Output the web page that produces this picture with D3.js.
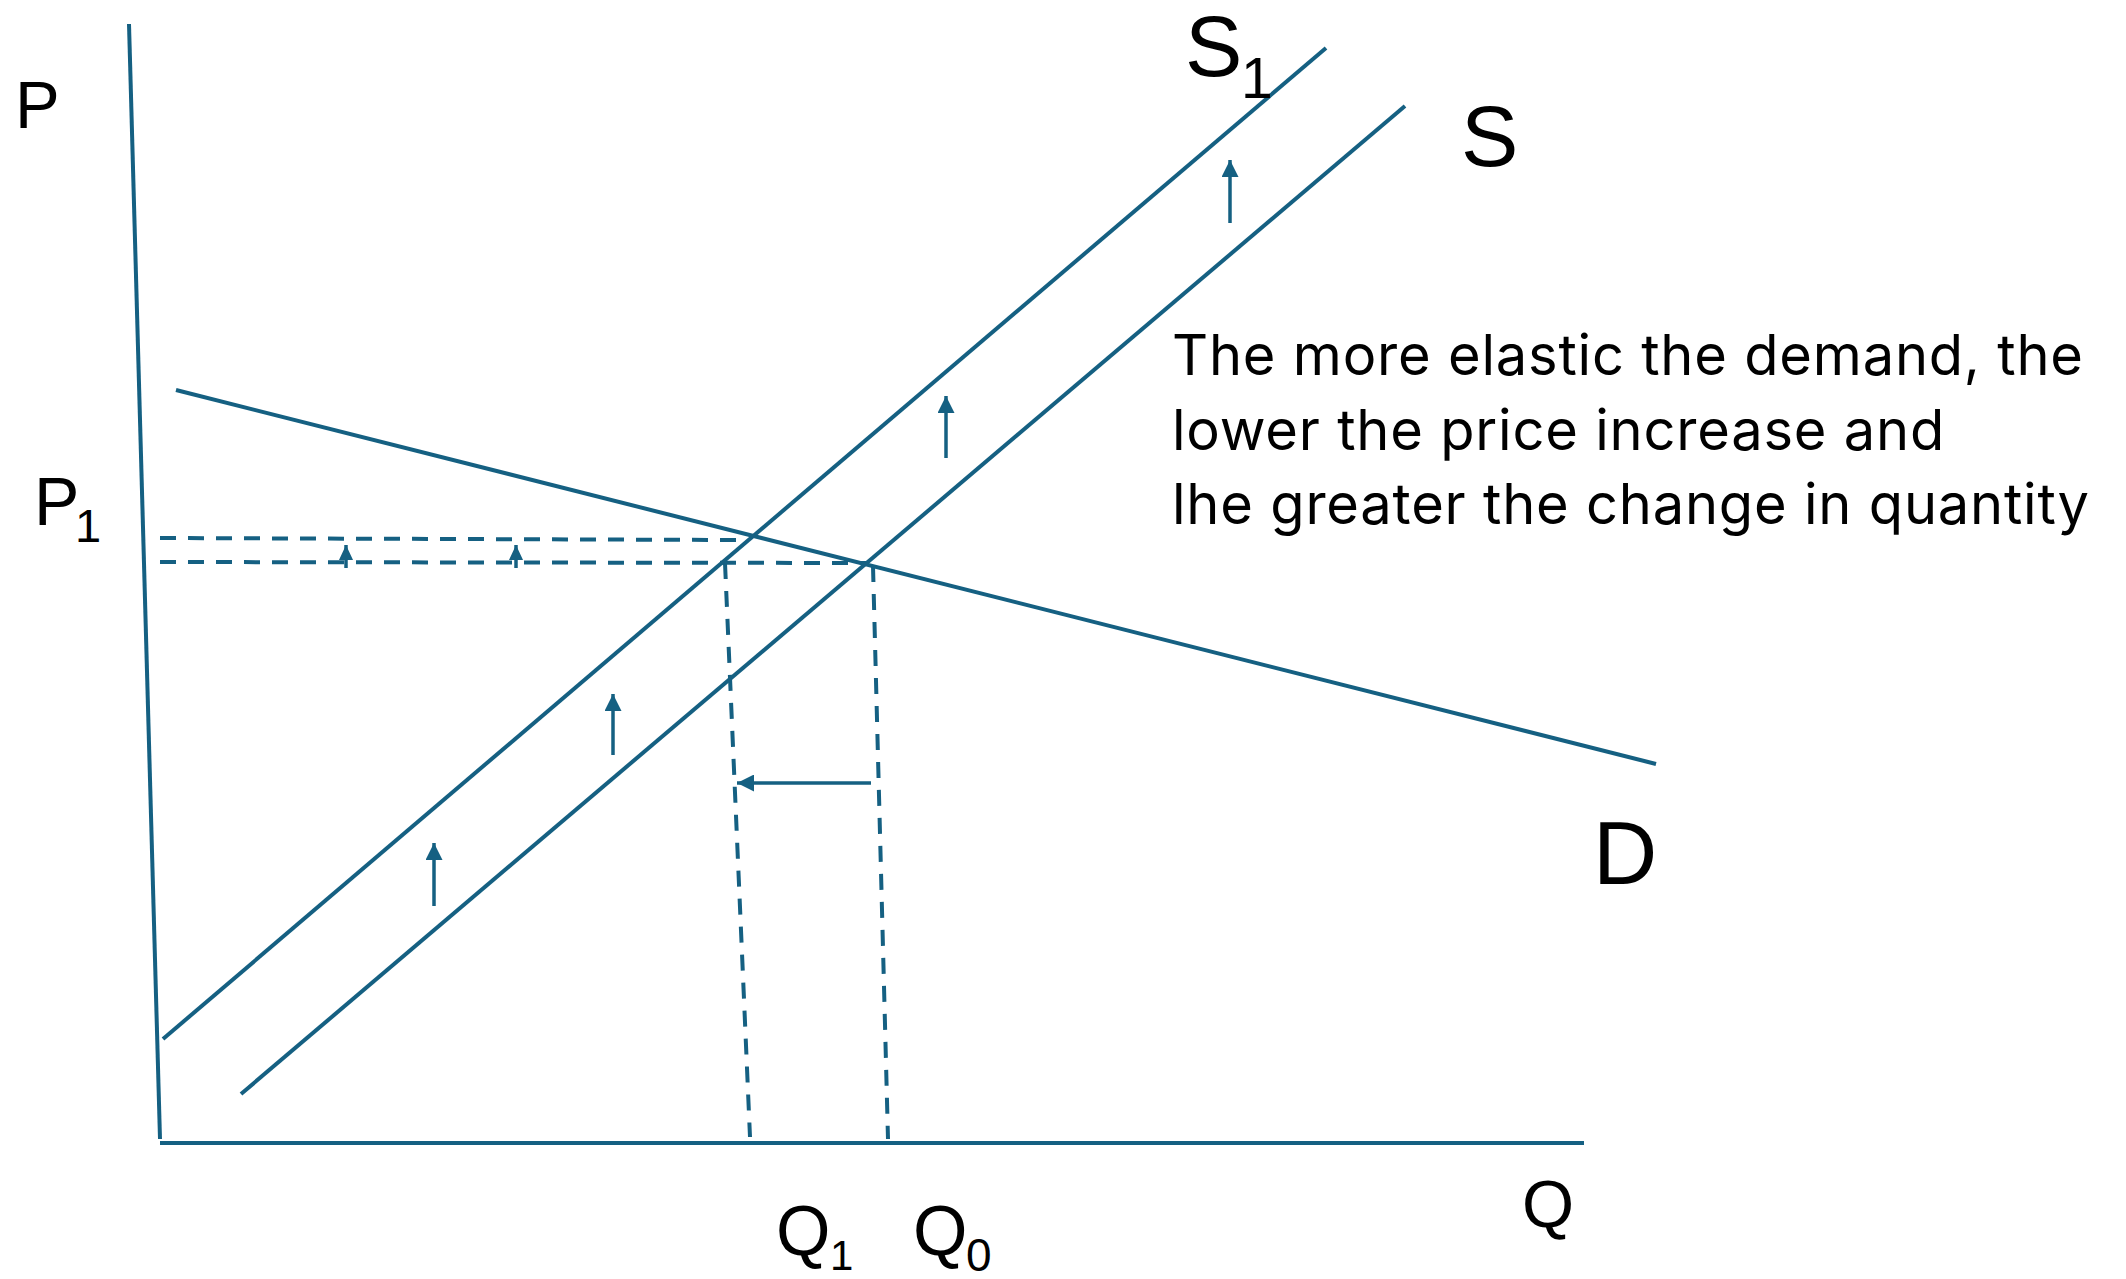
<!DOCTYPE html>
<html>
<head>
  <title>Supply shift with elastic demand</title>
  <style>
    html, body { margin: 0; padding: 0; background: #fff; }
    .lbl { font-family: "Liberation Sans", Arial, sans-serif; fill: #000; }
    .note { font-family: Inter, Lato, sans-serif; fill: #000; }
  </style>
</head>
<body>
  <svg id="chart" width="2126" height="1279"></svg>

  <script src="https://d3js.org/d3.v7.min.js"></script>
  <script>
    // quantity / price units, origin at the axes corner
    const axisLines = [
      [[-31, 1119], [0, 4]],     // price axis (drawn slightly slanted)
      [[0, 0], [1424, 0]]        // quantity axis
    ];
    const supply1 = [[3, 104], [1166, 1095]];
    const supply0 = [[81, 49], [1245, 1037]];
    const demand = [[16, 753], [1496, 379]];

    const dashedLines = [
      [[0, 605], [580, 603]],    // P1
      [[0, 581], [707, 580]],    // P0
      [[565, 580], [590, 6]],    // Q1
      [[713, 577], [728, 4]]     // Q0
    ];

    // [from, to, head size]
    const arrows = [
      [[274, 237], [274, 300], "big"],
      [[453, 388], [453, 449], "big"],
      [[786, 685], [786, 747], "big"],
      [[1070, 920], [1070, 983], "big"],
      [[186, 575], [186, 598], "small"],
      [[356, 575], [356, 598], "small"],
      [[711, 360], [577, 360], "big"]
    ];

    // [text, q, p, font size]
    const labels = [
      ["P", -145, 1015, 67],
      ["P", -126, 618, 68],
      ["1", -85, 601, 47],
      ["S", 1025, 1067, 86],
      ["1", 1081, 1045, 57],
      ["S", 1301, 977, 86],
      ["D", 1433, 259, 89],
      ["Q", 1362, -84, 67],
      ["Q", 616, -112, 70],
      ["1", 670, -127, 42],
      ["Q", 753, -112, 70],
      ["0", 806, -128, 46]
    ];

    const noteLines = [
      "The more elastic the demand, the",
      "lower the price increase and",
      "lhe greater the change in quantity"
    ];
    const noteBaselines = [768, 693, 619];
    const noteQ = 1012;

    const color = "#156082";

    const svg = d3.select("#chart");

    const x = d3.scaleLinear().domain([0, 1424]).range([160, 1584]);
    const y = d3.scaleLinear().domain([0, 1119]).range([1143, 24]);

    const line = d3.line().x(d => x(d[0])).y(d => y(d[1]));

    // arrow heads
    const defs = svg.append("defs");
    const heads = { big: [17, 17], small: [15, 14] };
    Object.entries(heads).forEach(([name, [len, wid]]) => {
      defs.append("marker")
        .attr("id", "head-" + name)
        .attr("markerUnits", "userSpaceOnUse")
        .attr("viewBox", `0 ${-wid / 2} ${len} ${wid}`)
        .attr("refX", len)
        .attr("refY", 0)
        .attr("markerWidth", len)
        .attr("markerHeight", wid)
        .attr("orient", "auto")
        .append("path")
        .attr("d", `M0,${-wid / 2}L${len},0L0,${wid / 2}Z`)
        .attr("fill", color);
    });

    // axes
    svg.selectAll(".axis")
      .data(axisLines)
      .enter()
      .append("path")
      .attr("class", "axis")
      .attr("d", line)
      .attr("fill", "none")
      .attr("stroke", color)
      .attr("stroke-width", 4);

    // dashed guides
    svg.selectAll(".guide")
      .data(dashedLines)
      .enter()
      .append("path")
      .attr("class", "guide")
      .attr("d", line)
      .attr("fill", "none")
      .attr("stroke", color)
      .attr("stroke-width", 4)
      .attr("stroke-dasharray", "16 12");

    // curves
    svg.selectAll(".curve")
      .data([supply1, supply0, demand])
      .enter()
      .append("path")
      .attr("class", "curve")
      .attr("d", line)
      .attr("fill", "none")
      .attr("stroke", color)
      .attr("stroke-width", 4);

    // shift arrows
    svg.selectAll(".arrow")
      .data(arrows)
      .enter()
      .append("line")
      .attr("class", "arrow")
      .attr("x1", d => x(d[0][0]))
      .attr("y1", d => y(d[0][1]))
      .attr("x2", d => x(d[1][0]))
      .attr("y2", d => y(d[1][1]))
      .attr("stroke", color)
      .attr("stroke-width", 3.5)
      .attr("marker-end", d => `url(#head-${d[2]})`);

    // labels
    svg.selectAll(".lbl")
      .data(labels)
      .enter()
      .append("text")
      .attr("class", "lbl")
      .attr("x", d => x(d[1]))
      .attr("y", d => y(d[2]))
      .style("font-size", d => d[3] + "px")
      .text(d => d[0]);

    // note text, spacing fitted to the reference width
    const note = svg.selectAll(".note")
      .data(noteLines)
      .enter()
      .append("text")
      .attr("class", "note")
      .attr("x", x(noteQ))
      .attr("y", (d, i) => y(noteBaselines[i]))
      .style("font-size", "56px")
      .text(d => d);

    const w0 = note.nodes()[0].getComputedTextLength();
    const ls = (911 - w0) / (noteLines[0].length - 1);
    note.style("letter-spacing", ls + "px");
  </script>
</body>
</html>
